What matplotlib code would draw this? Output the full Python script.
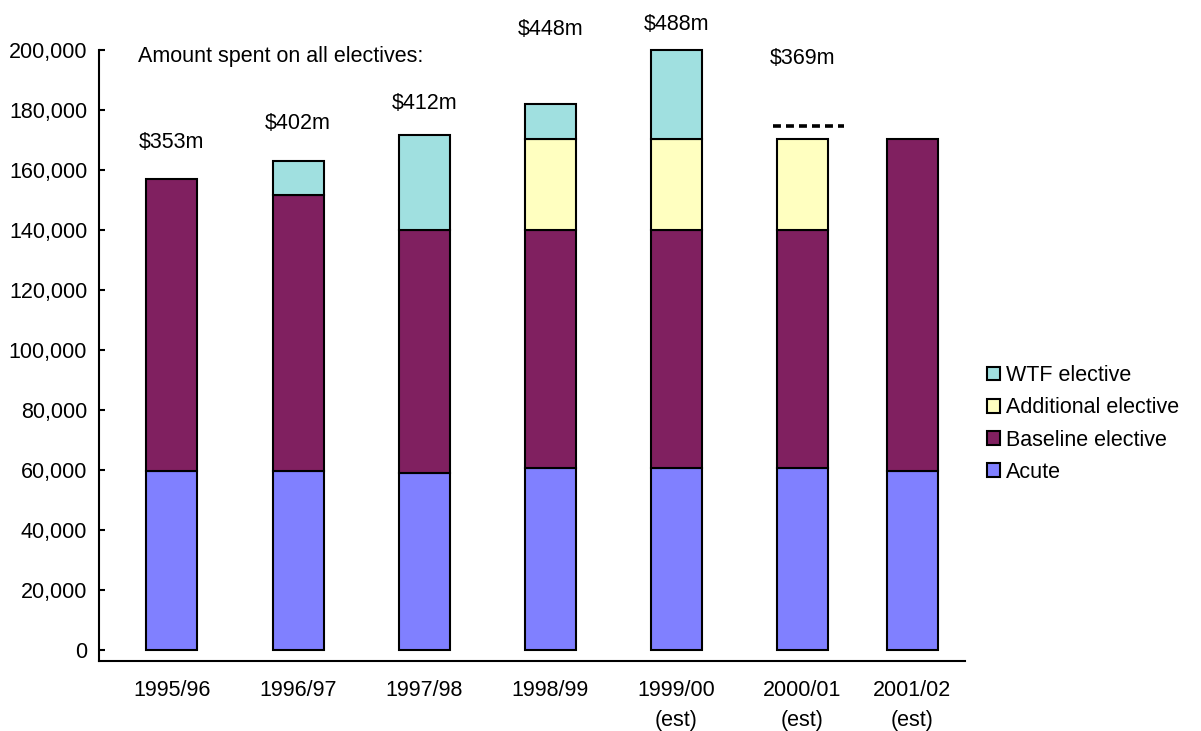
import matplotlib
matplotlib.use("Agg")
import matplotlib.pyplot as plt
from matplotlib.ticker import FuncFormatter

plt.rcParams['font.family'] = ['Liberation Sans', 'DejaVu Sans']

# chart data
years = ["1995/96", "1996/97", "1997/98", "1998/99", "1999/00\n(est)", "2000/01\n(est)", "2001/02\n(est)"]
acute = [59700, 59700, 59000, 60700, 60700, 60700, 59700]
baseline = [97300, 92000, 81000, 79300, 79300, 79300, 110600]
additional = [0, 0, 0, 30300, 30300, 30300, 0]
wtf = [0, 11300, 31700, 11700, 29700, 0, 0]
spend_labels = ["$353m", "$402m", "$412m", "$448m", "$488m", "$369m"]
target_2000 = 174700  # dashed marker above 2000/01

# layout
xpos = [0, 1, 2, 3, 4, 5, 5.87]
label_y = [169000, 175500, 182000, 207000, 208600, 197000]
bar_w = 0.405
fs = 15.5

colors = {"Acute": "#8080FF", "Baseline elective": "#802060",
          "Additional elective": "#FFFFC0", "WTF elective": "#A0E0E0"}

fig = plt.figure(figsize=(12.01, 7.31), dpi=100)
ax = fig.add_axes([0.0824, 0.0958, 0.7211, 0.8358])

bottom = [0] * len(years)
for name, vals in [("Acute", acute), ("Baseline elective", baseline),
                   ("Additional elective", additional), ("WTF elective", wtf)]:
    idx = [i for i, v in enumerate(vals) if v > 0]
    ax.bar([xpos[i] for i in idx], [vals[i] for i in idx], bar_w,
           bottom=[bottom[i] for i in idx], color=colors[name],
           edgecolor="black", linewidth=1.5, label=name, clip_on=False)
    bottom = [b + v for b, v in zip(bottom, vals)]

# spend labels above bars
for x, y, txt in zip(xpos, label_y, spend_labels):
    ax.text(x, y, txt, ha="center", va="center", fontsize=fs, clip_on=False)

ax.text(-0.27, 197700, "Amount spent on all electives:", ha="left", va="center",
        fontsize=fs, clip_on=False)

# dashed line over 2000/01
ax.plot([xpos[5] - 0.23, xpos[5] + 0.33], [target_2000, target_2000],
        color="black", linestyle=(0, (2.2, 1.4)), linewidth=2.6, clip_on=False)

ax.set_xlim(-0.579, 6.29)
ax.set_ylim(-3667, 200000)
ax.set_yticks(range(0, 200001, 20000))
ax.yaxis.set_major_formatter(FuncFormatter(lambda v, p: f"{int(v):,}"))
ax.set_xticks(xpos)
ax.set_xticklabels(years, linespacing=1.55)
ax.tick_params(axis="x", length=0, pad=14, labelsize=fs)
ax.tick_params(axis="y", direction="in", length=4, width=1.5, pad=8.5, labelsize=fs)

for s in ["top", "right"]:
    ax.spines[s].set_visible(False)
ax.spines["left"].set_linewidth(1.5)
ax.spines["bottom"].set_linewidth(1.5)

handles, labels = ax.get_legend_handles_labels()
ax.legend(handles[::-1], labels[::-1], loc="center left", bbox_to_anchor=(0.815, 0.42),
          bbox_transform=fig.transFigure, frameon=False, fontsize=fs,
          handlelength=0.6, handleheight=0.6, handletextpad=0.25, labelspacing=0.52,
          borderaxespad=0)

fig.savefig("out.png", dpi=100)
